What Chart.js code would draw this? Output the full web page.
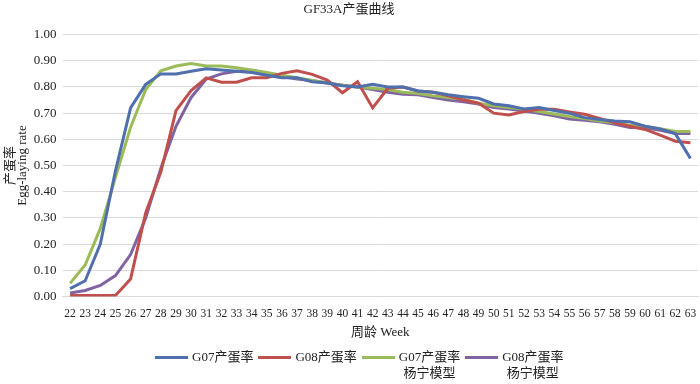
<!DOCTYPE html>
<html>
<head>
<meta charset="utf-8">
<script src="https://cdn.jsdelivr.net/npm/chart.js@4.4.0/dist/chart.umd.min.js"></script>
<style>
  html, body { margin: 0; padding: 0; background: #fff; }
  #wrap { position: relative; width: 700px; height: 384px; }
  #c { position: absolute; left: 0; top: 0; }
  #legend { position: absolute; left: 155px; top: 349px; display: flex; font-family: 'Liberation Serif', 'Noto Sans CJK SC', serif; font-size: 13px; color: #222; }
  .item { display: flex; align-items: flex-start; margin-right: 5px; }
  .sw { width: 33px; height: 3px; margin-top: 7px; margin-right: 4px; }
  .txt { line-height: 16px; text-align: center; }
</style>
</head>
<body>
<div id="wrap">
  <canvas id="c" width="700" height="384"></canvas>
  <div id="legend"></div>
</div>
<script>
const weeks = ['22','23','24','25','26','27','28','29','30','31','32','33','34','35','36','37','38','39','40','41','42','43','44','45','46','47','48','49','50','51','52','53','54','55','56','57','58','59','60','61','62','63'];

const g07 = [0.03,0.06,0.20,0.48,0.72,0.81,0.85,0.85,0.86,0.87,0.865,0.86,0.855,0.845,0.835,0.835,0.82,0.815,0.805,0.80,0.81,0.80,0.80,0.785,0.78,0.77,0.763,0.757,0.735,0.728,0.716,0.722,0.71,0.70,0.683,0.676,0.67,0.667,0.65,0.64,0.622,0.527];

const g08 = [0.004,0.004,0.004,0.004,0.067,0.32,0.475,0.71,0.786,0.835,0.818,0.818,0.835,0.835,0.852,0.862,0.848,0.826,0.778,0.82,0.72,0.795,0.80,0.785,0.78,0.766,0.75,0.738,0.70,0.693,0.706,0.715,0.715,0.705,0.696,0.68,0.663,0.65,0.638,0.616,0.593,0.587];

const g07Model = [0.05,0.12,0.26,0.455,0.646,0.79,0.862,0.88,0.89,0.88,0.88,0.873,0.865,0.855,0.845,0.835,0.825,0.815,0.807,0.80,0.795,0.79,0.78,0.775,0.766,0.76,0.753,0.738,0.728,0.722,0.715,0.706,0.697,0.687,0.68,0.67,0.663,0.654,0.65,0.641,0.63,0.63];

const g08Model = [0.013,0.023,0.042,0.08,0.16,0.30,0.49,0.65,0.76,0.83,0.85,0.86,0.86,0.85,0.84,0.83,0.825,0.815,0.807,0.80,0.79,0.78,0.772,0.77,0.76,0.75,0.744,0.735,0.722,0.716,0.708,0.70,0.69,0.678,0.673,0.667,0.658,0.645,0.644,0.635,0.622,0.622];

const seriesNames = ['G07产蛋率', 'G08产蛋率', ['G07产蛋率','杨宁模型'], ['G08产蛋率','杨宁模型']];
const colors = ['#4F6FAD', '#C0504D', '#9BBB59', '#8064A2'];
const yTicks = [0,0.1,0.2,0.3,0.4,0.5,0.6,0.7,0.8,0.9,1.0];

const FONT = "'Liberation Serif', 'Noto Sans CJK SC', serif";
const allData = [g07, g08, g07Model, g08Model];

const datasets = allData.map((d, i) => ({
  label: Array.isArray(seriesNames[i]) ? seriesNames[i].join('') : seriesNames[i],
  data: d,
  borderColor: colors[i],
  backgroundColor: colors[i],
  borderWidth: 3,
  pointRadius: 0,
  tension: 0,
  fill: false
}));

new Chart(document.getElementById('c'), {
  type: 'line',
  data: { labels: weeks, datasets },
  options: {
    responsive: false,
    animation: false,
    layout: { padding: { left: 0, right: 2, top: 0, bottom: 45 } },
    plugins: {
      legend: { display: false },
      tooltip: { enabled: false },
      title: {
        display: true,
        text: 'GF33A产蛋曲线',
        color: '#222',
        font: { family: FONT, size: 13, weight: 'normal' },
        padding: { top: 2, bottom: 17 }
      }
    },
    scales: {
      x: {
        offset: true,
        grid: { display: false, drawTicks: true, tickLength: 10, tickColor: 'rgba(0,0,0,0)' },
        border: { display: true, color: '#D9D9D9' },
        ticks: {
          autoSkip: false, maxRotation: 0, minRotation: 0, padding: 2,
          color: '#222', font: { family: FONT, size: 11.5, lineHeight: 1.0 }
        },
        title: {
          display: true, text: '周龄 Week', color: '#222',
          font: { family: FONT, size: 13, lineHeight: 1.0 }, padding: { top: 4, bottom: 0 }
        }
      },
      y: {
        min: 0, max: 1,
        afterBuildTicks: (axis) => { axis.ticks = yTicks.map(v => ({ value: v })); },
        afterFit: (axis) => { axis.width = 62.5; },
        grid: { color: '#D9D9D9', drawTicks: false, lineWidth: 1 },
        border: { display: false },
        ticks: {
          padding: 6, color: '#222', font: { family: FONT, size: 13 },
          callback: (v) => Number(v).toFixed(2)
        },
        title: {
          display: true, text: ['产蛋率', 'Egg-laying rate'], color: '#222',
          font: { family: FONT, size: 13, lineHeight: 0.95 }, padding: { top: 4, bottom: 0 }
        }
      }
    }
  }
});

const leg = document.getElementById('legend');
seriesNames.forEach((name, i) => {
  const item = document.createElement('div');
  item.className = 'item';
  const sw = document.createElement('div');
  sw.className = 'sw';
  sw.style.background = colors[i];
  const txt = document.createElement('div');
  txt.className = 'txt';
  const lines = Array.isArray(name) ? name : [name];
  lines.forEach(l => { const s = document.createElement('div'); s.textContent = l; txt.appendChild(s); });
  item.appendChild(sw);
  item.appendChild(txt);
  leg.appendChild(item);
});
</script>
</body>
</html>
